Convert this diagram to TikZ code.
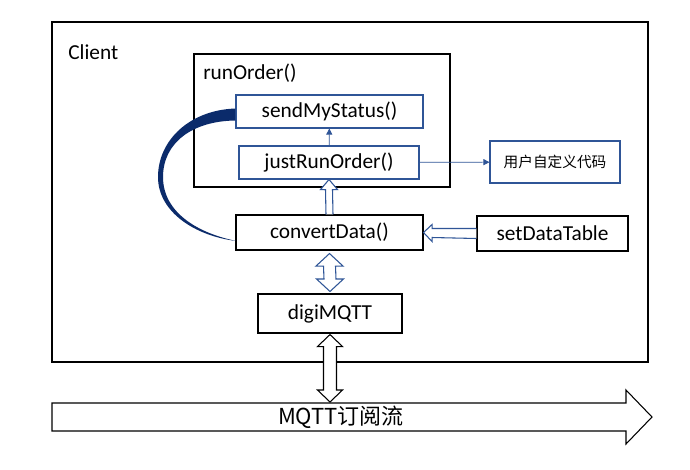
\documentclass[tikz,border=0pt]{standalone}
\usepackage{fontspec}
\setmainfont{Carlito}
\newfontfamily\cjk{Noto Sans CJK SC}
\usetikzlibrary{arrows.meta,calc,positioning}
\definecolor{navy}{HTML}{0B2B6B}
\definecolor{boxblue}{HTML}{2F5597}

\begin{document}
\begin{tikzpicture}[x=0.75pt,y=-0.75pt,
  lbl/.style={font=\fontsize{16}{19}\selectfont},
  box/.style={draw,fill=white,line width=0.8pt,inner sep=0pt,lbl},
  bluebox/.style={box,draw=boxblue},
  wh/.style 2 args={minimum width=#1*0.75pt,minimum height=#2*0.75pt},
  hollow/.style={fill=white,line width=0.8pt,line join=miter},
  thinarrow/.style={draw=boxblue,line width=0.5pt,-{Triangle[length=4.5pt,width=4.5pt]}}]
  \useasboundingbox (0,0) rectangle (690,469);
  \node[box,wh={596}{340}] (client) at (350,192) {};
  \node[lbl,anchor=west,inner sep=0pt] (clientlbl) at (68,52) {Client};
  \node[box,wh={256}{133}] (runorder) at (322,120.5) {};
  \node[lbl,anchor=west,inner sep=0pt] (runorderlbl) at (203,73) {runOrder()};
  \node[bluebox,wh={187}{33}] (send) at (329.5,111.5) {sendMyStatus()};
  \node[bluebox,wh={180}{33}] (justrun) at (329,162.5) {justRunOrder()};
  \node[bluebox,wh={130}{42},font=\cjk\fontsize{11}{13}\selectfont] (custom) at (555,162) {用户自定义代码};
  \node[box,wh={187}{35}] (convert) at (329.5,232.5) {convertData()};
  \node[box,wh={151}{35}] (settable) at (552.5,233.5) {setDataTable};
  \node[box,wh={144}{39}] (digi) at (330,313.5) {digiMQTT};

  \fill[navy] ($(send.west)+(0,-3)$) .. controls (190,110) and (158,140) .. (158,177)
    .. controls (158,212) and (195,236) .. ($(convert.west)+(1,8.5)$)
    .. controls (197,233) and (163,212) .. (163,177)
    .. controls (163,143) and (192,121) .. ($(send.west)+(0,9)$) -- cycle;

  \draw[thinarrow] (justrun) -- (send);
  \draw[thinarrow] (justrun) -- (custom);

  \draw[hollow,draw=boxblue] ($(convert.north)+(-3.5,0)$) -- ($(justrun.south)+(-3.5,10)$) -- ++(-5,0)
    -- (justrun.south) -- ($(justrun.south)+(8.5,10)$) -- ++(-5,0) -- ($(convert.north)+(3.5,0)$);
  \draw[hollow,draw=boxblue] ($(settable.west)+(0,-5)$) -- ($(convert.east)+(8.5,-4)$) -- ++(0,-4)
    -- (convert.east) -- ($(convert.east)+(8.5,9)$) -- ++(0,-4) -- ($(settable.west)+(0,5)$);

  \draw[line width=0.8pt,line join=miter] (52,403) -- (626,403) -- (626,390) -- (652,417)
    -- (626,444) -- (626,431) -- (52,431) -- cycle;
  \node[font=\cjk\fontsize{16.5}{19}\selectfont] (stream) at (341,417) {MQTT订阅流};

  \coordinate (a1) at ($(convert.south)+(0,3)$);
  \coordinate (a2) at ($(digi.north)+(0,-2)$);
  \coordinate (b1) at ($(digi.south)+(0,1)$);
  \coordinate (b2) at (330,402);
  \foreach \p/\q/\s/\h/\l/\c in {a1/a2/6/13.5/12.5/boxblue,b1/b2/6.5/12.5/12/black}
    {\draw[hollow,draw=\c] (\p) -- ++(\h,\l) -- ++(-\h+\s,0) -- ($(\q)+(\s,-\l)$) -- ++(\h-\s,0)
      -- (\q) -- ++(-\h,-\l) -- ++(\h-\s,0) -- ($(\p)+(-\s,\l)$) -- ++(-\h+\s,0) -- cycle;}
\end{tikzpicture}
\end{document}
